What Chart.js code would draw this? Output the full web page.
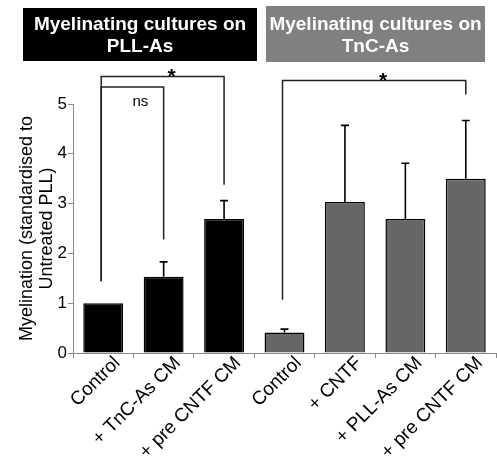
<!DOCTYPE html>
<html>
<head>
<meta charset="utf-8">
<script src="https://cdn.jsdelivr.net/npm/chart.js@4/dist/chart.umd.min.js"></script>
<style>
  html, body { margin: 0; padding: 0; background: #fff; }
  #wrap { width: 497px; height: 463px; }
</style>
</head>
<body>
<div id="wrap"><canvas id="c" width="497" height="463"></canvas></div>
<script>
// Myelination values per condition (mean, upward SEM)
const categories = ['Control', '+ TnC-As CM', '+ pre CNTF CM', 'Control', '+ CNTF', '+ PLL-As CM', '+ pre CNTF CM'];
const means = [1.0, 1.53, 2.69, 0.41, 3.03, 2.69, 3.50];
const errorsUp = [0, 0.30, 0.37, 0.07, 1.54, 1.12, 1.17];
const barColors = ['#000000', '#000000', '#000000', '#666666', '#666666', '#666666', '#666666'];
const yTicks = [0, 1, 2, 3, 4, 5];

// Group headers
const groupTitles = [['Myelinating cultures on', 'PLL-As'], ['Myelinating cultures on', 'TnC-As']];

// Significance brackets: category indices, bracket height and leg ends (data units)
const brackets = [
  { from: 0, to: 2, top: 5.55, legFrom: 1.44, legTo: 3.38, label: '*' },
  { from: 0, to: 1, top: 5.34, legFrom: 1.44, legTo: 2.28, label: 'ns' },
  { from: 3, to: 6, top: 5.47, legFrom: 1.07, legTo: 5.19, label: '*' }
];

const FONT = 'Arial, "Liberation Sans", Helvetica, sans-serif';

const headerPlugin = {
  id: 'groupHeaders',
  afterDraw(chart) {
    const ctx = chart.ctx;
    const boxes = [
      { x: 23, y: 8, w: 234, h: 53, fill: '#000000' },
      { x: 266, y: 6, w: 219, h: 56, fill: '#808080' }
    ];
    ctx.save();
    boxes.forEach((b, i) => {
      ctx.fillStyle = b.fill;
      ctx.fillRect(b.x, b.y, b.w, b.h);
      ctx.fillStyle = '#ffffff';
      ctx.font = 'bold 19px ' + FONT;
      ctx.textAlign = 'center';
      ctx.textBaseline = 'middle';
      const cx = b.x + b.w / 2;
      ctx.fillText(groupTitles[i][0], cx, 25);
      ctx.fillText(groupTitles[i][1], cx, 47);
    });
    ctx.restore();
  }
};

const errorBarPlugin = {
  id: 'errorBars',
  afterDatasetsDraw(chart) {
    const ctx = chart.ctx;
    const xs = chart.scales.x, ys = chart.scales.y;
    ctx.save();
    ctx.strokeStyle = '#000';
    ctx.lineWidth = 1.6;
    means.forEach((m, i) => {
      if (!errorsUp[i]) return;
      const x = xs.getPixelForValue(i);
      const y0 = ys.getPixelForValue(m);
      const y1 = ys.getPixelForValue(m + errorsUp[i]);
      ctx.beginPath();
      ctx.moveTo(x, y0);
      ctx.lineTo(x, y1);
      ctx.moveTo(x - 4, y1);
      ctx.lineTo(x + 4, y1);
      ctx.stroke();
    });
    ctx.restore();
  }
};

const bracketPlugin = {
  id: 'brackets',
  afterDraw(chart) {
    const ctx = chart.ctx;
    const xs = chart.scales.x, ys = chart.scales.y;
    ctx.save();
    ctx.strokeStyle = '#222';
    ctx.lineWidth = 1.5;
    brackets.forEach(b => {
      const x0 = xs.getPixelForValue(b.from) - 2;
      const x1 = xs.getPixelForValue(b.to);
      const yt = ys.getPixelForValue(b.top);
      ctx.beginPath();
      ctx.moveTo(x0, ys.getPixelForValue(b.legFrom));
      ctx.lineTo(x0, yt);
      ctx.lineTo(x1, yt);
      ctx.lineTo(x1, ys.getPixelForValue(b.legTo));
      ctx.stroke();
      ctx.fillStyle = '#000';
      ctx.textAlign = 'center';
      ctx.textBaseline = 'middle';
      if (b.label === '*') {
        ctx.font = 'bold 21px ' + FONT;
        ctx.fillText('*', (x0 + x1) / 2 + 9, yt + 1);
      } else {
        ctx.font = '15px ' + FONT;
        ctx.fillText(b.label, (x0 + x1) / 2 + 8, yt + 15);
      }
    });
    ctx.restore();
  }
};

new Chart(document.getElementById('c'), {
  type: 'bar',
  data: {
    labels: categories,
    datasets: [{
      data: means,
      backgroundColor: barColors,
      borderColor: '#000',
      borderWidth: 1.5,
      barPercentage: 0.66,
      categoryPercentage: 1.0
    }]
  },
  options: {
    responsive: false,
    animation: false,
    layout: { padding: { top: 104, left: 0, right: 1, bottom: 0 } },
    plugins: { legend: { display: false }, tooltip: { enabled: false } },
    scales: {
      x: {
        grid: { drawOnChartArea: false, drawTicks: true, tickLength: 5, color: '#888', offset: true },
        border: { display: true, color: '#888', width: 1 },
        ticks: {
          color: '#000',
          font: { family: FONT, size: 19 },
          minRotation: 45, maxRotation: 45,
          autoSkip: false,
          labelOffset: 14,
          padding: -6
        },
        afterFit(s) { s.height = 110; }
      },
      y: {
        min: 0, max: 5,
        afterBuildTicks(s) { s.ticks = yTicks.map(v => ({ value: v })); },
        grid: { drawOnChartArea: false, drawTicks: true, tickLength: 5, color: '#888' },
        border: { display: true, color: '#888', width: 1 },
        ticks: { color: '#000', font: { family: FONT, size: 17 }, padding: 1 },
        title: {
          display: true,
          text: ['Myelination (standardised to', 'Untreated PLL)'],
          color: '#000',
          font: { family: FONT, size: 18, lineHeight: 1.1 },
          padding: { top: 17, bottom: 0 }
        },
        afterFit(s) { s.width = 73; }
      }
    }
  },
  plugins: [headerPlugin, errorBarPlugin, bracketPlugin]
});
</script>
</body>
</html>
